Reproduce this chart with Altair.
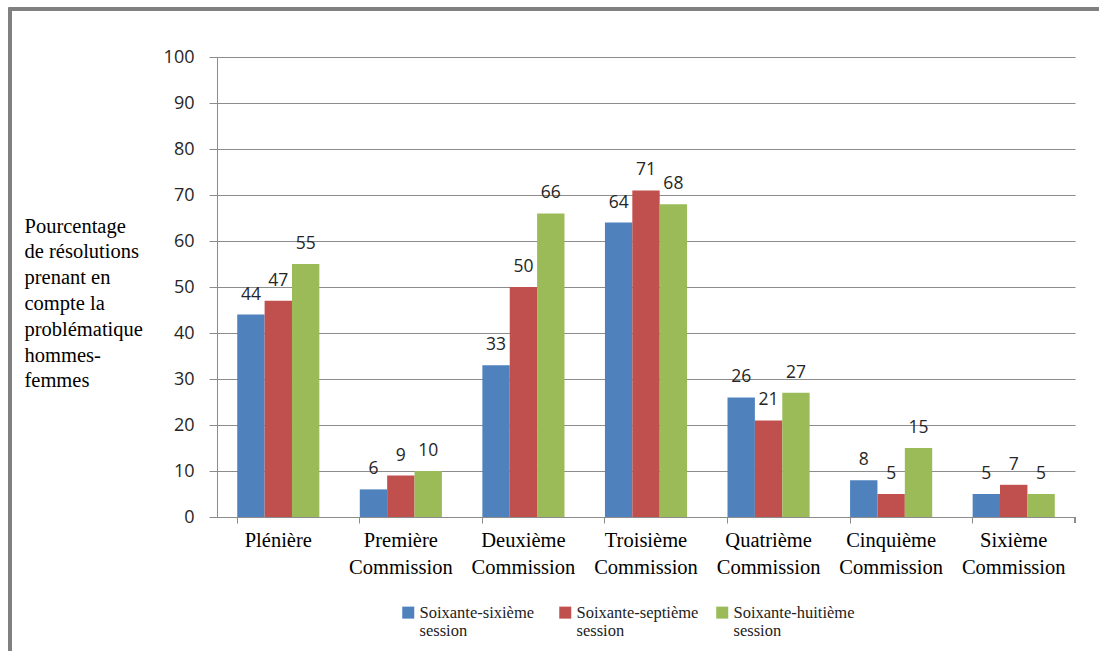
import altair as alt
import pandas as pd

# Organes de l'Assemblée générale
organes = [
    "Plénière",
    "Première Commission",
    "Deuxième Commission",
    "Troisième Commission",
    "Quatrième Commission",
    "Cinquième Commission",
    "Sixième Commission",
]

sessions = [
    "Soixante-sixième session",
    "Soixante-septième session",
    "Soixante-huitième session",
]

# Pourcentage de résolutions prenant en compte la problématique hommes-femmes
session_66 = [44, 6, 33, 64, 26, 8, 5]
session_67 = [47, 9, 50, 71, 21, 5, 7]
session_68 = [55, 10, 66, 68, 27, 15, 5]

couleurs = ["#4F81BD", "#C0504D", "#9BBB59"]

rows = []
for session, valeurs in zip(sessions, [session_66, session_67, session_68]):
    for organe, v in zip(organes, valeurs):
        rows.append({"organe": organe, "session": session, "pct": v})
df = pd.DataFrame(rows)

W, H = 858, 460

x_enc = alt.X(
    "organe:N",
    sort=organes,
    scale=alt.Scale(paddingInner=0.33, paddingOuter=0.165),
    axis=alt.Axis(
        title=None,
        labelAngle=0,
        labelFont="Liberation Serif",
        labelFontSize=20.5,
        labelColor="#000000",
        labelExpr="split(datum.label, ' ')",
        labelLineHeight=27,
        labelPadding=7,
        labelLimit=0,
        bandPosition=0,
        tickSize=6,
        tickColor="#8c8c8c",
        domainColor="#8c8c8c",
        grid=False,
    ),
)

y_enc = alt.Y(
    "pct:Q",
    scale=alt.Scale(domain=[0, 100], nice=False),
    axis=alt.Axis(
        values=list(range(0, 101, 10)),
        title=[
            "Pourcentage",
            "de résolutions",
            "prenant en",
            "compte la",
            "problématique",
            "hommes-",
            "femmes",
        ],
        titleAngle=0,
        titleAlign="left",
        titleBaseline="alphabetic",
        titleX=-193,
        titleY=175,
        titleFont="Liberation Serif",
        titleFontSize=20.5,
        titleFontWeight="normal",
        titleColor="#000000",
        titleLineHeight=25.8,
        labelFont="Open Sans",
        labelFontSize=18,
        labelColor="#262626",
        labelPadding=15,
        tickSize=8,
        tickColor="#8c8c8c",
        domainColor="#8c8c8c",
        gridColor="#8c8c8c",
        gridWidth=1,
    ),
)

offset = alt.XOffset("session:N", sort=sessions)

barres = alt.Chart(df).mark_bar().encode(
    x=x_enc,
    y=y_enc,
    xOffset=offset,
    color=alt.Color(
        "session:N",
        sort=sessions,
        scale=alt.Scale(domain=sessions, range=couleurs),
        legend=alt.Legend(
            title=None,
            orient="none",
            legendX=183,
            legendY=547,
            direction="horizontal",
            columns=3,
            gridAlign="all",
            symbolType="square",
            symbolSize=144,
            symbolStrokeWidth=0,
            symbolOpacity=1,
            labelFont="Liberation Serif",
            labelFontSize=16.5,
            labelColor="#222222",
            labelExpr="split(datum.label, ' ')",
            labelOffset=3,
            labelLimit=0,
            columnPadding=15,
        ),
    ),
)

etiquettes = alt.Chart(df).mark_text(
    baseline="alphabetic",
    dy=-15,
    font="Open Sans",
    fontSize=17.5,
    color="#262626",
).encode(
    x=alt.X("organe:N", sort=organes),
    y="pct:Q",
    xOffset=offset,
    text="pct:Q",
)

# graduation de fin d'axe horizontal
graduation = alt.Chart(df).mark_rule(color="#8c8c8c").encode(
    x=alt.value(W), y=alt.value(H), y2=alt.value(H + 6)
)

# cadre du graphique
cadre = alt.Chart(df).mark_rect(
    fill="transparent", stroke="#808080", strokeWidth=2.5
).encode(
    x=alt.value(-207), x2=alt.value(W + 200), y=alt.value(-48), y2=alt.value(H + 200)
)

chart = (
    alt.layer(cadre, barres, etiquettes, graduation)
    .properties(
        width=W,
        height=H,
        autosize=alt.AutoSizeParams(type="none"),
        padding={"left": 217, "top": 57, "right": 24, "bottom": 134},
        background="#ffffff",
    )
    .configure_view(stroke=None)
)

chart.save("out.html", embed_options={"renderer": "svg", "actions": False})
